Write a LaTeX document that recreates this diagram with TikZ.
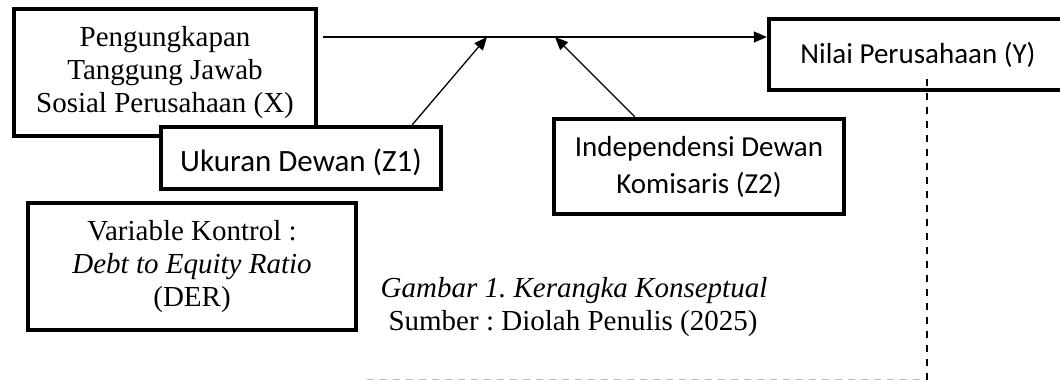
\documentclass[tikz,border=0pt]{standalone}
\usepackage{fontspec}
\setmainfont{Liberation Serif}
\newfontfamily\calibri{Carlito}
\usetikzlibrary{arrows.meta,positioning}

\begin{document}
\frenchspacing
\begin{tikzpicture}[x=1pt,y=-1pt,
	kotak/.style={draw,line width=4.4pt,fill=white,align=center,inner sep=0pt},
	serif/.style={font=\fontsize{29}{33}\selectfont},
	sans/.style={font=\calibri\fontsize{29}{37}\selectfont},
	panah/.style={->,>={Triangle[length=13pt,width=11pt]},line width=1.3pt},
	putus/.style={line width=1.5pt,dash pattern=on 7pt off 7pt},
	putusabu/.style={line width=1pt,gray!55,dash pattern=on 7pt off 6pt}]
	\useasboundingbox (0,0) rectangle (1060,380);
	
	% Kotak variabel
	\node[kotak,serif,minimum width=302pt,minimum height=127pt] (X) at (165,72.5) {Pengungkapan\\Tanggung Jawab\\Sosial Perusahaan (X)};
	\node[kotak,sans,font=\calibri\fontsize{31}{37}\selectfont,minimum width=280pt,minimum height=62pt,text height=32pt,text depth=6pt] (Z1) at (301,158) {Ukuran Dewan (Z1)};
	\node[kotak,sans,minimum width=290pt,minimum height=95pt] (Z2) at (699,166.5) {Independensi Dewan\\Komisaris (Z2)};
	\node[kotak,sans,minimum width=298pt,minimum height=71pt] (Y) at (918,54.5) {Nilai Perusahaan (Y)};
	\node[kotak,serif,minimum width=328pt,minimum height=127pt] (DER) at (192,266.5) {Variable Kontrol :\\\textit{Debt to Equity Ratio}\\(DER)};
	
	% Keterangan gambar
	\node[font={\fontsize{29}{33}\selectfont\itshape},anchor=base] (judul) at (574,297) {Gambar 1. Kerangka Konseptual};
	\node[serif,anchor=base] (sumber) at (573,330) {Sumber : Diolah Penulis (2025)};
	
	% Panah
	\coordinate (xout) at (323,37);
	\coordinate (m1) at (487,37);
	\coordinate (m2) at (555,37);
	\draw[panah] (xout) -- (xout -| Y.west);
	\draw[panah] ([xshift=-31pt]Z1.north east) -- (m1);
	\draw[panah] ([xshift=83pt]Z2.north west) -- (m2);
	
	% Garis putus-putus
	\coordinate (kiri) at (367,379);
	\coordinate (kanan) at (922,379);
	\draw[putus] ([xshift=9pt,yshift=13pt]Y.south) -- ++(0,310);
	\draw[putusabu] (kiri) -- (kanan);
\end{tikzpicture}
\end{document}
